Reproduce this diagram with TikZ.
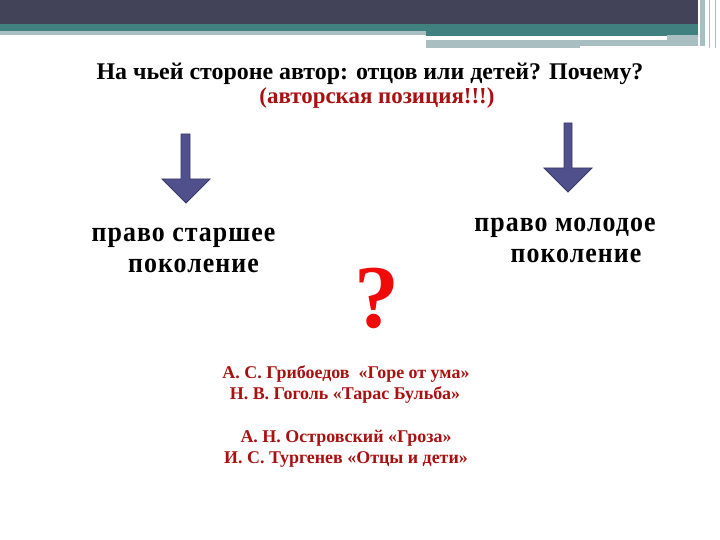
\documentclass[tikz,border=0pt]{standalone}
\usepackage{fontspec}
\usepackage{graphicx}
\setmainfont{Liberation Serif}
\newfontfamily\genfont[LetterSpace=4,BoldFont={Liberation Serif Bold}]{Liberation Serif}
\definecolor{barDark}{RGB}{66,66,88}
\definecolor{barTeal}{RGB}{64,128,126}
\definecolor{barGray}{RGB}{168,190,192}
\definecolor{arrowFill}{RGB}{80,80,140}
\definecolor{arrowLine}{RGB}{58,58,105}
\definecolor{textRed}{RGB}{170,16,16}
\definecolor{qRed}{RGB}{240,10,10}
\newcommand{\tallbox}[1]{\scalebox{1}[1.1]{#1}}
\tikzset{
  titletext/.style={font=\fontsize{24}{28}\selectfont\bfseries, anchor=base, inner sep=0pt},
  gentext/.style={font=\genfont\bfseries\fontsize{26}{30}\selectfont, anchor=base, inner sep=0pt},
  booktext/.style={font=\fontsize{18}{21}\selectfont\bfseries, text=textRed, anchor=base, inner sep=0pt},
  downarrow/.style={fill=arrowFill, draw=arrowLine, line width=0.8bp, line join=miter}
}
\begin{document}
\begin{tikzpicture}[x=1bp,y=-1bp]
\useasboundingbox (0,0) rectangle (720,540);
\fill[white] (0,0) rectangle (720,540);
% header bars
\fill[barGray] (0,30) rectangle (426,35);
\fill[barTeal] (0,24) rectangle (698,31);
\fill[barTeal] (426,24) rectangle (698,36);
\fill[barGray] (426,40) rectangle (580,48);
\fill[barGray] (580,40) rectangle (667,46);
\fill[barGray] (667,35) rectangle (698,46);
\fill[barDark] (0,0) rectangle (698,24);
\fill[barGray] (700,0) rectangle (705,46);
\draw[barGray, line width=0.8bp] (709,0) -- (709,48);
\draw[barGray, line width=0.8bp] (715,0) -- (715,48);
% title
\node[titletext] (t1) at (370,80) {На чьей стороне автор: отцов или детей? Почему?};
\node[titletext, font=\fontsize{23}{27}\selectfont\bfseries, text=textRed] (t2) at (377,104) {(авторская позиция!!!)};
% arrows
\draw[downarrow] (181,134) -- (190,134) -- (190,179) -- (210,179) -- (186,203) -- (162,179) -- (181,179) -- cycle;
\draw[downarrow] (564,123) -- (572,123) -- (572,168) -- (592,168) -- (568,192) -- (544,168) -- (564,168) -- cycle;
% generations
\node[gentext] (l1) at (183.5,242) {\tallbox{право старшее}};
\node[gentext] (l2) at (193.5,273) {\tallbox{поколение}};
\node[gentext] (r1) at (565,232) {\tallbox{право молодое}};
\node[gentext] (r2) at (576,263) {\tallbox{поколение}};
% question mark
\node[font=\fontsize{90}{96}\selectfont\bfseries, text=qRed, anchor=base, inner sep=0pt] (q) at (377,327) {?};
% books
\node[booktext] (b1) at (346,378) {А. С. Грибоедов \ «Горе от ума»};
\node[booktext] (b2) at (345,399) {Н. В. Гоголь «Тарас Бульба»};
\node[booktext] (b3) at (346,442) {А. Н. Островский «Гроза»};
\node[booktext] (b4) at (346,463) {И. С. Тургенев «Отцы и дети»};
\end{tikzpicture}
\end{document}
